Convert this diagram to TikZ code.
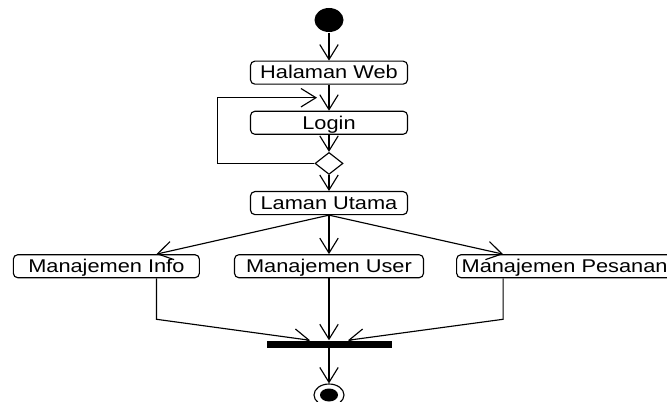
\documentclass[tikz,border=0pt]{standalone}
\usepackage{fontspec}
\setmainfont{Liberation Sans}[FakeStretch=1.18]
\usetikzlibrary{positioning}
\usetikzlibrary{arrows.meta}
\usetikzlibrary{shapes.geometric}
\usetikzlibrary{calc}

\begin{document}
\begin{tikzpicture}[line width=0.65pt, >={Straight Barb[length=8.5pt,width=10.5pt]},
    act/.style={rectangle, rounded corners=2.5pt, draw=black, minimum width=3.14cm, minimum height=0.46cm,
                inner ysep=1pt, text height=7.5pt, text depth=0.3pt, font=\fontsize{10.5}{12}\selectfont},
    initial/.style={ellipse, fill=black, minimum width=0.58cm, minimum height=0.48cm, inner sep=0pt},
    final/.style={ellipse, draw=black, minimum width=0.6cm, minimum height=0.44cm, inner sep=0pt},
    decision/.style={diamond, draw=black, minimum width=0.56cm, minimum height=0.44cm, inner sep=0pt},
    bar/.style={rectangle, fill=black, minimum width=2.5cm, minimum height=0.14cm, inner sep=0pt}]
            \useasboundingbox (0,0) rectangle (13.34,8.02);

            \node[initial]  (start) at (6.58,7.62) {};
            \node[act]      (web) [below=0.56cm of start] {Halaman Web};
            \node[act]      (login) [below=0.52cm of web] {Login};
            \node[decision] (check) [below=0.34cm of login] {};
            \node[act]      (utama) [below=0.32cm of check] {Laman Utama};
            \node[act, minimum width=3.78cm] (user) [below=0.78cm of utama] {Manajemen User};
            \node[act, minimum width=3.72cm] (info) [left=0.68cm of user] {Manajemen Info};
            \node[act, minimum width=4.6cm, text width=4.4cm, inner xsep=0.1cm] (pesanan) [right=0.64cm of user] {Manajemen Pesanan};
            \node[bar]      (sync) [below=1.24cm of user] {};
            \node[final]    (end) [below=0.7cm of sync] {};
            \fill (end.center) ellipse (0.18 and 0.13);

            \coordinate (back) at ($(login.north)+(-0.24,0.26)$);

            \draw[->] (start) -- (web);
            \draw[->] (web) -- (login);
            \draw[->] (login) -- (check);
            \draw[->] (check.west) -- ++(-1.94,0) |- (back);
            \draw[->] (check) -- (utama);

            \draw[->] (utama.south) -- ($(info.north east)+(-0.87,0)$);
            \draw[->] (utama) -- (user);
            \draw[->] (utama.south) -- ($(pesanan.north west)+(0.94,0)$);

            \draw[->] ($(info.south east)+(-0.87,0)$) -- ++(0,-0.82) -- ($(sync.north)+(-0.38,0)$);
            \draw[->] (user) -- (sync);
            \draw[->] ($(pesanan.south west)+(0.94,0)$) -- ++(0,-0.82) -- ($(sync.north)+(0.38,0)$);
            \draw[->] (sync) -- (end);
        \end{tikzpicture}
\end{document}
